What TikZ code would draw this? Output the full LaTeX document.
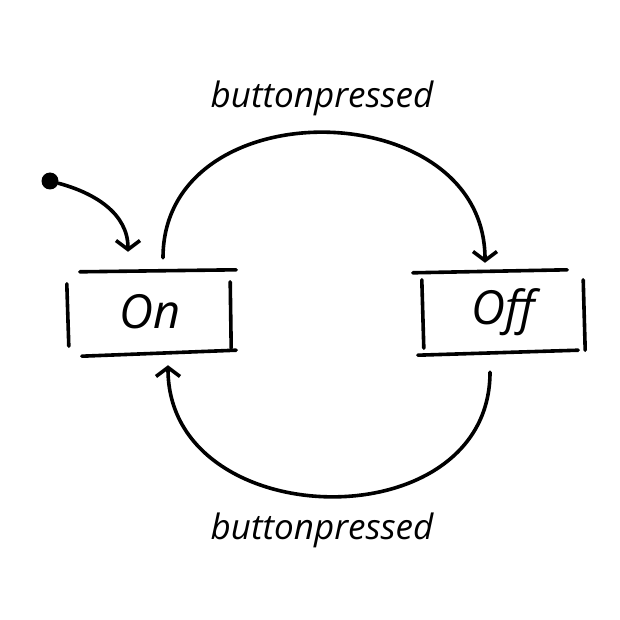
\documentclass[tikz,border=0pt]{standalone}
\usepackage{fontspec}
\setmainfont{Open Sans}
\usetikzlibrary{arrows.meta,calc,positioning}

\begin{document}
\begin{tikzpicture}[
            x=1pt,y=-1pt,
            state/.style={inner sep=0,minimum width=150,minimum height=80,font=\fontsize{47}{47}\selectfont\itshape},
            stroke/.style={line width=3.6pt,line cap=round},
            trans/.style={stroke,-{Straight Barb[length=9pt,width=24pt]}},
            lab/.style={font=\fontsize{35}{35}\selectfont\itshape}
          ]
          \useasboundingbox (0,0) rectangle (620,620);

          \node[state] (on) at (150,312) {On};
          \node[state] (off) at (503,312) {Off};
          \node[circle,fill,inner sep=0,minimum size=17] (init) at (50,181) {};

          %sketched boxes
          \draw[stroke] ($(on.north west)+(5,0)$) -- ($(on.north east)+(11,-2)$);
          \draw[stroke] ($(on.south west)+(7,4)$) -- ($(on.south east)+(11,-2)$);
          \draw[stroke] ($(on.north west)+(-8,12)$) -- ($(on.south west)+(-6,-6)$);
          \draw[stroke] ($(on.north east)+(5,10)$) -- ($(on.south east)+(6,-4)$);
          \draw[stroke] ($(off.north west)+(-15,1)$) -- ($(off.north east)+(-11,-2)$);
          \draw[stroke] ($(off.south west)+(-10,3)$) -- ($(off.south east)+(0,-2)$);
          \draw[stroke] ($(off.north west)+(-6,8)$) -- ($(off.south west)+(-4,-4)$);
          \draw[stroke] ($(off.north east)+(5,8)$) -- ($(off.south east)+(7,-2)$);

          %transitions
          \draw[trans] (init) to[out=-15,in=90] ($(on.north)+(-22,-20)$);
          \draw[trans] ($(on.north)+(13,-14)$) to[out=90,in=90,looseness=1.35] ($(off.north)+(-18,-9)$);
          \draw[trans] ($(off.south)+(-13,20)$) to[out=-90,in=-90,looseness=1.35] ($(on.south)+(18,13)$);

          %labels
          \node[lab] (toplab) at (322,98) {buttonpressed};
          \node[lab] (botlab) at (322,530) {buttonpressed};
\end{tikzpicture}
\end{document}
